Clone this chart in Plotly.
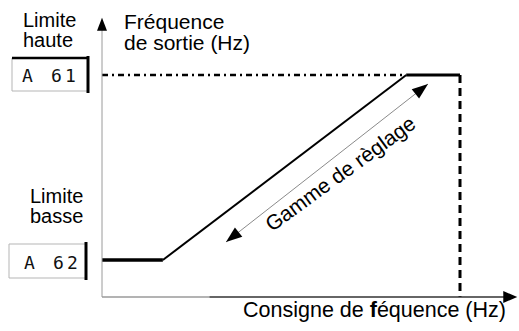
import math
import plotly.graph_objects as go

W, H = 519, 331

# Transfer characteristic: output frequency as a function of the set-point
setpoint = [0, 17, 85, 100]      # consigne de fréquence (% of full scale)
output = [10, 10, 60, 60]        # fréquence de sortie (Hz)
high_code = "A 61"               # parameter holding the upper limit
low_code = "A 62"                # parameter holding the lower limit

X_AXIS_END = 116
Y_AXIS_END = 75.5

# drawing geometry (pixels)
ORIGIN = (102, 297)
SX = 3.58
SY = 3.7
x_range = [-ORIGIN[0] / SX, (W - ORIGIN[0]) / SX]
y_range = [-(H - ORIGIN[1]) / SY, ORIGIN[1] / SY]


def to_px(x, y):
    return ORIGIN[0] + x * SX, ORIGIN[1] - y * SY


def pap(px, py):
    return px / W, 1 - py / H


def triangle(tip, direction, length, half):
    ux, uy = direction
    n = math.hypot(ux, uy)
    ux, uy = ux / n, uy / n
    bx, by = tip[0] - ux * length, tip[1] - uy * length
    pts = [tip, (bx - uy * half, by + ux * half), (bx + uy * half, by - ux * half)]
    p = [pap(*q) for q in pts]
    return dict(type="path", xref="paper", yref="paper",
                path="M {} {} L {} {} L {} {} Z".format(p[0][0], p[0][1], p[1][0], p[1][1], p[2][0], p[2][1]),
                fillcolor="black", line=dict(width=0))


fig = go.Figure()

# reference lines for the limits
fig.add_trace(go.Scatter(x=[setpoint[0], setpoint[2]], y=[output[2], output[2]], mode="lines",
                         line=dict(color="black", width=2.5, dash="6px,4px,2px,4px")))
fig.add_trace(go.Scatter(x=[setpoint[3], setpoint[3]], y=[output[3], 0], mode="lines",
                         line=dict(color="black", width=3, dash="8px,5px")))
# characteristic
fig.add_trace(go.Scatter(x=setpoint[0:2], y=output[0:2], mode="lines",
                         line=dict(color="black", width=3.5)))
fig.add_trace(go.Scatter(x=setpoint[1:3], y=output[1:3], mode="lines",
                         line=dict(color="black", width=2)))
fig.add_trace(go.Scatter(x=setpoint[2:4], y=output[2:4], mode="lines",
                         line=dict(color="black", width=3)))

shapes = []
# axes
shapes.append(dict(type="line", xref="x", yref="y", x0=0, y0=0, x1=0, y1=Y_AXIS_END - 3,
                   line=dict(color="#9a9a9a", width=1)))
shapes.append(dict(type="line", xref="x", yref="y", x0=0, y0=0, x1=30, y1=0,
                   line=dict(color="#9a9a9a", width=1.5)))
shapes.append(dict(type="line", xref="x", yref="y", x0=30, y0=0, x1=X_AXIS_END - 3, y1=0,
                   line=dict(color="#333333", width=1.5)))
shapes.append(triangle(to_px(0, Y_AXIS_END), (0, -1), 13, 5))
shapes.append(triangle(to_px(X_AXIS_END, 0), (1, 0), 14, 6))

# adjustment-range arrow
a0, a1 = (226, 242), (428, 84)
shapes.append(dict(type="line", xref="paper", yref="paper",
                   x0=pap(*a0)[0], y0=pap(*a0)[1], x1=pap(*a1)[0], y1=pap(*a1)[1],
                   line=dict(color="#8a8a8a", width=1)))
shapes.append(triangle(a1, (a1[0] - a0[0], a1[1] - a0[1]), 16, 6))
shapes.append(triangle(a0, (a0[0] - a1[0], a0[1] - a1[1]), 16, 6))


def display_box(x0, y0, x1, y1, top_black):
    out = []
    gray = dict(color="#b5b5b5", width=1)
    blk = dict(color="black", width=3)
    X0, Y0 = pap(x0, y0)
    X1, Y1 = pap(x1, y1)
    out.append(dict(type="line", xref="paper", yref="paper", x0=X0, y0=Y0, x1=X0, y1=Y1, line=gray))
    out.append(dict(type="line", xref="paper", yref="paper", x0=X0, y0=Y1, x1=X1, y1=Y1, line=gray))
    out.append(dict(type="line", xref="paper", yref="paper", x0=X0, y0=Y0, x1=X1, y1=Y0,
                    line=dict(color="black", width=2.5) if top_black else gray))
    out.append(dict(type="line", xref="paper", yref="paper", x0=X1, y0=pap(0, y0 - 2)[1], x1=X1,
                    y1=pap(0, y1 + 2)[1], line=blk))
    return out


shapes += display_box(12, 58, 88, 91, True)
shapes += display_box(9, 244, 86, 278, False)

ann = []
FONT = "Liberation Sans, Arial, sans-serif"


def text(s, x, y, size, xanchor="left", angle=0, family=FONT, color="black"):
    X, Y = pap(x, y)
    ann.append(dict(text=s, x=X, y=Y, xref="paper", yref="paper", xanchor=xanchor, yanchor="middle",
                    showarrow=False, textangle=angle, font=dict(family=family, size=size, color=color)))


text("Limite", 21, 20, 20)
text("haute", 21, 40, 20)
text("Limite", 85, 196, 20, xanchor="right")
text("basse", 85, 216, 20, xanchor="right")
text("Fréquence", 122, 21, 21)
text("de sortie (Hz)", 122, 42, 21)
text("Consigne de <b>f</b>équence (Hz)", 241, 310, 21.5)
text("Gamme de règlage", 340, 173, 21, xanchor="center", angle=-36)

# seven-segment style read-outs
for code, cx, cy in [(high_code, 27, 75), (low_code, 29, 262)]:
    for i, ch in enumerate(code):
        if ch != " ":
            text(ch, cx + i * 14.5, cy, 18, xanchor="center", family="DejaVu Sans Mono", color="#111111")

fig.update_layout(
    width=W, height=H, margin=dict(l=0, r=0, t=0, b=0),
    paper_bgcolor="white", plot_bgcolor="white", showlegend=False,
    xaxis=dict(range=x_range, visible=False, fixedrange=True),
    yaxis=dict(range=y_range, visible=False, fixedrange=True),
    shapes=shapes, annotations=ann,
)
fig.write_html("out.html")
